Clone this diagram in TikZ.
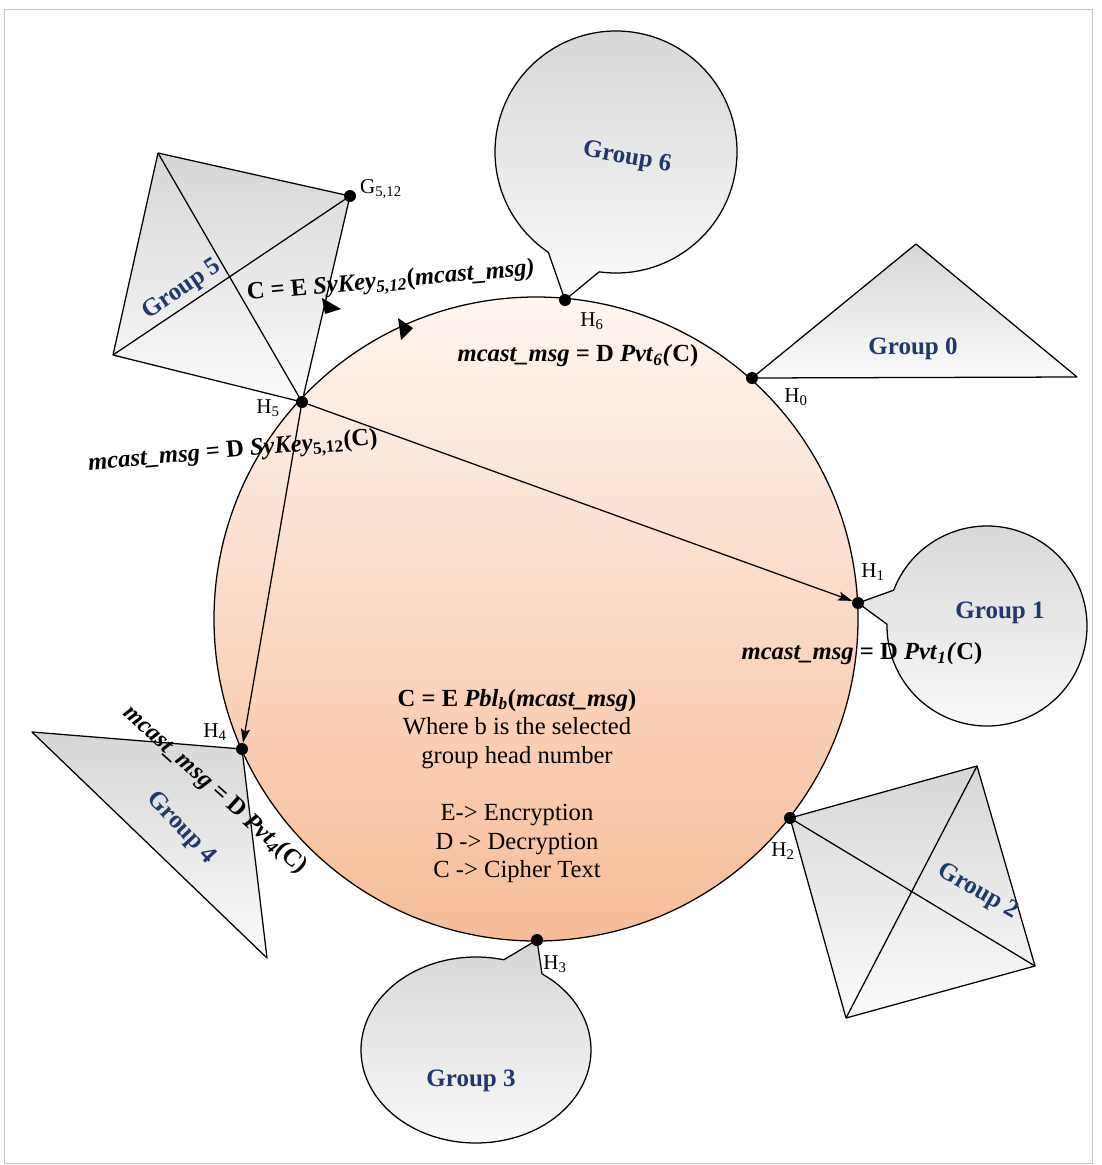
\documentclass[tikz,border=0pt]{standalone}
\usepackage{fontspec}
\setmainfont{Liberation Serif}
\usetikzlibrary{arrows.meta,calc}
\definecolor{grpblue}{RGB}{31,56,110}
\definecolor{peachtop}{RGB}{254,246,240}
\definecolor{peachbot}{RGB}{247,188,152}
\begin{document}
\begin{tikzpicture}[x=0.025cm,y=-0.025cm,
  outline/.style={draw=black,line width=0.9pt,line join=round},
  grpfill/.style={top color=gray!32,bottom color=gray!3},
  hdot/.style={circle,fill=black,inner sep=0pt,minimum size=0.3cm},
  hlab/.style={font=\fontsize{15}{17}\selectfont,inner sep=0pt},
  grplab/.style={font=\fontsize{17.8}{20}\selectfont\bfseries,text=grpblue,inner sep=0pt},
  eqlab/.style={font=\fontsize{17.5}{20}\selectfont\bfseries,inner sep=0pt},
  conn/.style={line width=0.9pt,-{Stealth[length=10pt,width=6.5pt,inset=2pt]}},
  marker/.style={fill=black}
]
\useasboundingbox (0,0) rectangle (1101,1165);
\draw[gray!45,line width=0.6pt] (4,9) rectangle (1092,1163);

% coordinates
\coordinate (O) at (536,619);
\coordinate (H0) at (752,378);
\coordinate (H1) at (858,603);
\coordinate (H2) at (790,818);
\coordinate (H3) at (537,940);
\coordinate (H4) at (242,749);
\coordinate (H5) at (302,402);
\coordinate (H6) at (565,300);
\coordinate (G512) at (350,196);

% main circle
\path[top color=peachtop,bottom color=peachbot,draw=black,line width=0.9pt] (O) circle[radius=322];

% Group 6 balloon
\coordinate (c6) at (616,152);
\path[outline,grpfill] ($(c6)+(124:121)$) -- (H6) -- ($(c6)+(98:121)$) arc[start angle=98, delta angle=-334, radius=121] -- cycle;

% Group 1 balloon
\coordinate (c1) at (987,626);
\path[outline,grpfill] ($(c1)+(181:100)$) -- (H1) -- ($(c1)+(201:100)$) arc[start angle=201, delta angle=340, radius=100] -- cycle;

% Group 3 balloon
\coordinate (c3) at (476,1050);
\path[outline,grpfill] ($(c3)+(-76:115 and 93)$) -- (H3) -- ($(c3)+(-55:115 and 93)$) arc[start angle=-55, delta angle=339, x radius=115, y radius=93] -- cycle;

% Group 5 quad
\coordinate (q5a) at (158,153);
\coordinate (q5d) at (113,355);
\path[outline,grpfill] (q5a) -- (G512) -- (H5) -- (q5d) -- cycle;
\draw[outline] (q5a) -- (H5);
\draw[outline] (q5d) -- (G512);

% Group 2 quad
\coordinate (q2b) at (977,766);
\coordinate (q2c) at (1035,966);
\coordinate (q2d) at (846,1018);
\path[outline,grpfill] (H2) -- (q2b) -- (q2c) -- (q2d) -- cycle;
\draw[outline] (H2) -- (q2c);
\draw[outline] (q2b) -- (q2d);

% Group 0 triangle
\coordinate (t0b) at (916,244);
\coordinate (t0c) at (1077,377);
\path[outline,grpfill] (H0) -- (t0b) -- (t0c) -- cycle;

% Group 4 triangle
\coordinate (t4a) at (32,732);
\coordinate (t4c) at (267,958);
\path[outline,grpfill] (t4a) -- (H4) -- (t4c) -- cycle;

% markers
\fill[marker] (322,298) -- (341,309) -- (325,314) -- cycle;
\fill[marker] (398,318) -- (413,328) -- (401,340) -- cycle;

% dots
\node[hdot] (h0) at (H0) {};
\node[hdot] (h1) at (H1) {};
\node[hdot] (h2) at (H2) {};
\node[hdot] (h3) at (H3) {};
\node[hdot] (h4) at (H4) {};
\node[hdot] (h5) at (H5) {};
\node[hdot] (h6) at (H6) {};
\node[hdot] (g512) at (G512) {};

% connectors
\draw[conn] (h5) -- (h1);
\draw[conn] (h5) -- (h4);

% head labels
\node[hlab] (lH0) at (796,397) {H\textsubscript{0}};
\node[hlab] (lH1) at (873,572) {H\textsubscript{1}};
\node[hlab] (lH2) at (783,851) {H\textsubscript{2}};
\node[hlab] (lH3) at (555,964) {H\textsubscript{3}};
\node[hlab] (lH4) at (215,732) {H\textsubscript{4}};
\node[hlab] (lH5) at (268,408) {H\textsubscript{5}};
\node[hlab] (lH6) at (592,321) {H\textsubscript{6}};
\node[hlab] (lG) at (381,189) {G\textsubscript{5,12}};

% group labels
\node[grplab,rotate=-10] (g6) at (627,158) {Group 6};
\node[grplab] (g0) at (913,349) {Group 0};
\node[grplab] (g1) at (1000,613) {Group 1};
\node[grplab,rotate=-30] (g2) at (978,892) {Group 2};
\node[grplab] (g3) at (471,1081) {Group 3};
\node[grplab,rotate=-47] (g4) at (181,828) {Group 4};
\node[grplab,rotate=34] (g5) at (182,290) {Group 5};

% equation labels
\node[eqlab,rotate=5] (e1) at (391,282) {C = E \textit{SyKey}\textsubscript{\textit{5,12}}(\textit{mcast\_msg)}};
\node[eqlab] (e2) at (578,356) {\textit{mcast\_msg} = D \textit{Pvt}\textsubscript{\textit{6}}\textit{(}C)};
\node[eqlab,rotate=5] (e3) at (233,452) {\textit{mcast\_msg} = D \textit{SyKey}\textsubscript{5,12}(C)};
\node[eqlab] (e4) at (862,654) {\textit{mcast\_msg} = D \textit{Pvt}\textsubscript{\textit{1}}\textit{(}C)};
\node[eqlab,rotate=-42] (e5) at (215,790) {\textit{mcast\_msg} = D \textit{Pvt}\textsubscript{\textit{4}}(C)};

% central text
\node[align=center,inner sep=0pt,font=\fontsize{17.5}{20.3}\selectfont] (ctext) at (517,786)
  {\textbf{C = E \textit{Pbl}\textsubscript{\textit{b}}(\textit{mcast\_msg})}\\
   Where b is the selected\\
   group head number\\[20.3pt]
   E-> Encryption\\
   D -> Decryption\\
   C -> Cipher Text};
\end{tikzpicture}
\end{document}
